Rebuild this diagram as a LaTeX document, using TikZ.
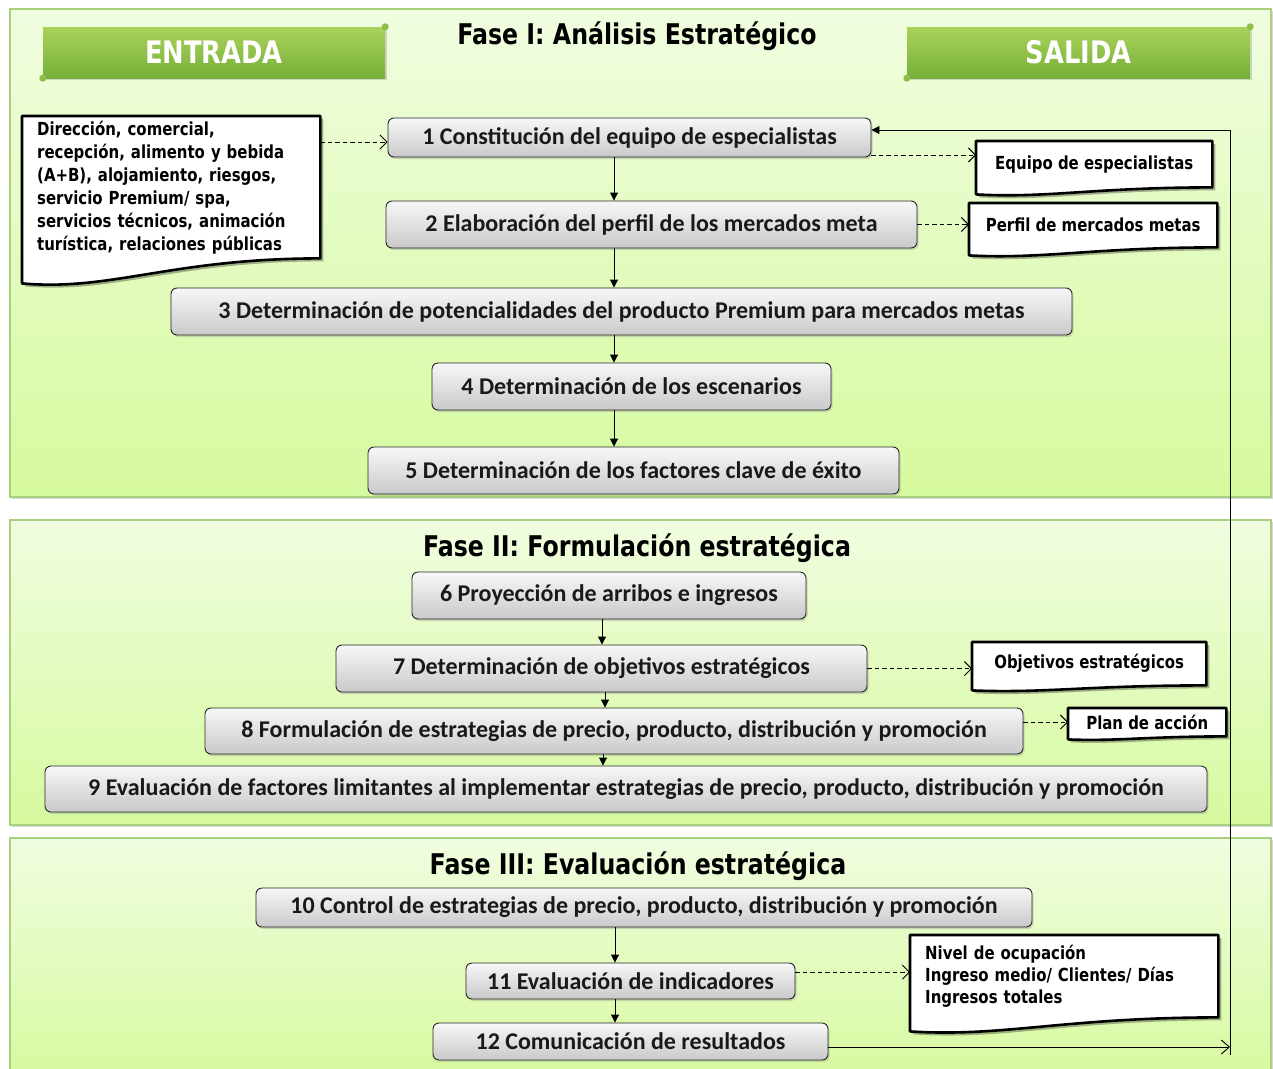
\documentclass[tikz,border=0pt]{standalone}
\usepackage{fontspec}
\newfontfamily\boxfont{Carlito}
\newfontfamily\tfont{DejaVu Sans}[FakeStretch=0.83]
\usetikzlibrary{arrows.meta,shadows,calc}
\pgfdeclarelayer{bg}
\pgfdeclarelayer{mid}
\pgfsetlayers{bg,mid,main}
\definecolor{pbord}{HTML}{A9D07E}
\definecolor{ptop}{HTML}{F0FDE0}
\definecolor{pbot}{HTML}{D6FA9E}
\definecolor{gtop}{HTML}{A9D35C}
\definecolor{gbot}{HTML}{78AF38}
\definecolor{knob}{HTML}{8CBF48}
\newcommand\docshape[3]{%
  \draw[fill=black, opacity=0.3, draw=none, transform canvas={shift={(3pt,-3pt)}}] (#1.north west) -- (#1.north east) -- (#1.south east) .. controls ($(#1.south west)!0.5!(#1.south east)$) and ($(#1.south west)!0.3!(#1.south east)+(0,#2+#3)$) .. ($(#1.south west)+(0,#2)$) -- cycle;
  \draw[line width=2.6pt, fill=white, line join=round] (#1.north west) -- (#1.north east) -- (#1.south east) .. controls ($(#1.south west)!0.5!(#1.south east)$) and ($(#1.south west)!0.3!(#1.south east)+(0,#2+#3)$) .. ($(#1.south west)+(0,#2)$) -- cycle;}
\begin{document}
\begin{tikzpicture}[x=1pt,y=-1pt,
  panel/.style={draw=pbord, line width=1.3pt, top color=ptop, bottom color=pbot,
     drop shadow={opacity=0.3, shadow xshift=1.5pt, shadow yshift=-2pt}},
  stepbox/.style={draw=black!85, line width=0.9pt, rounded corners=6pt, top color=gray!6, bottom color=gray!42,
     font=\boxfont\bfseries\fontsize{24}{26}\selectfont, text=black!90, inner sep=0pt,
     drop shadow={opacity=0.3, shadow xshift=1.5pt, shadow yshift=-2pt}},
  docnode/.style={inner sep=0pt, font=\tfont\bfseries\fontsize{18}{23}\selectfont, align=center, anchor=north west},
  banner/.style={top color=gtop, bottom color=gbot, draw=none, text=white, inner sep=0pt,
     font=\tfont\bfseries\fontsize{31}{34}\selectfont,
     drop shadow={opacity=0.3, shadow xshift=1.5pt, shadow yshift=-2pt}},
  phasetitle/.style={font=\tfont\bfseries\fontsize{28.5}{31}\selectfont, inner sep=0pt},
  darr/.style={line width=0.9pt, -{Triangle[length=8pt,width=8pt]}},
  dasharr/.style={line width=0.9pt, dash pattern=on 4.5pt off 3pt, -{Straight Barb[length=7pt,width=14pt]}},
  fbarr/.style={line width=0.9pt, -{Straight Barb[length=8pt,width=14pt]}},
]
\useasboundingbox (0,0) rectangle (1273,1068);
\begin{pgfonlayer}{bg}
\fill[white] (0,0) rectangle (1273,1068);
\draw[panel] (10,9) rectangle (1271,497);
\draw[panel] (10,520) rectangle (1271,825);
\draw[panel] (10,838) rectangle (1271,1085);
\end{pgfonlayer}

% banners
\node[banner, minimum width=342pt, minimum height=51pt] (ent) at (214,52.5) {ENTRADA};
\node[banner, minimum width=343pt, minimum height=51pt] (sal) at (1078.5,52.5) {SALIDA};
\fill[knob] (ent.north east) circle (3.5pt);
\fill[knob] (ent.south west) circle (3.5pt);
\fill[knob] (sal.north east) circle (3.5pt);
\fill[knob] (sal.south west) circle (3.5pt);

% titles
\node[phasetitle] (t1) at (637,36) {Fase I: Análisis Estratégico};
\node[phasetitle] (t2) at (637,548) {Fase II: Formulación estratégica};
\node[phasetitle] (t3) at (638,866) {Fase III: Evaluación estratégica};

% step boxes
\node[stepbox, minimum width=483pt, minimum height=39pt] (b1) at (629.5,137.5) {1 Constitución del equipo de especialistas};
\node[stepbox, minimum width=531pt, minimum height=47pt] (b2) at (651.5,224.5) {2 Elaboración del perfil de los mercados meta};
\node[stepbox, minimum width=901pt, minimum height=47pt] (b3) at (621.5,311.5) {3 Determinación de potencialidades del producto Premium para mercados metas};
\node[stepbox, minimum width=399pt, minimum height=47pt] (b4) at (631.5,386.5) {4 Determinación de los escenarios};
\node[stepbox, minimum width=531pt, minimum height=47pt] (b5) at (633.5,470.5) {5 Determinación de los factores clave de éxito};
\node[stepbox, minimum width=394pt, minimum height=47pt] (b6) at (609,595.5) {6 Proyección de arribos e ingresos};
\node[stepbox, minimum width=531pt, minimum height=47pt] (b7) at (601.5,668.5) {7 Determinación de objetivos estratégicos};
\node[stepbox, minimum width=818pt, minimum height=46pt] (b8) at (614,731) {8 Formulación de estrategias de precio, producto, distribución y promoción};
\node[stepbox, minimum width=1162pt, minimum height=46pt] (b9) at (626,789) {9 Evaluación de factores limitantes al implementar estrategias de precio, producto, distribución y promoción};
\node[stepbox, minimum width=776pt, minimum height=39pt] (b10) at (644,907.5) {10 Control de estrategias de precio, producto, distribución y promoción};
\node[stepbox, minimum width=329pt, minimum height=36pt] (b11) at (630.5,981) {11 Evaluación de indicadores};
\node[stepbox, minimum width=395pt, minimum height=37pt] (b12) at (630.5,1041.5) {12 Comunicación de resultados};

% document nodes
\node[docnode, align=left, minimum width=298pt, minimum height=142pt, text width=268pt, inner xsep=15pt] (in) at (22,116) {Dirección, comercial,\\recepción, alimento y bebida\\(A+B), alojamiento, riesgos,\\servicio Premium/ spa,\\servicios técnicos, animación\\turística, relaciones públicas};
\node[docnode, minimum width=236pt, minimum height=46pt] (eq) at (976,141) {Equipo de especialistas};
\node[docnode, minimum width=248pt, minimum height=44pt] (pf) at (969,203) {Perfil de mercados metas};
\node[docnode, minimum width=234pt, minimum height=43pt] (ob) at (972,642) {Objetivos estratégicos};
\node[docnode, minimum width=158pt, minimum height=28pt] (pl) at (1068,708) {Plan de acción};
\node[docnode, align=left, minimum width=308pt, minimum height=82pt, text width=278pt, inner xsep=15pt, font=\tfont\bfseries\fontsize{18}{22}\selectfont] (nv) at (910,935) {Nivel de ocupación\\Ingreso medio/ Clientes/ Días\\Ingresos totales};
\begin{pgfonlayer}{mid}
\docshape{in}{25}{8}
\docshape{eq}{7}{4}
\docshape{pf}{8}{4}
\docshape{ob}{5}{3}
\docshape{pl}{3}{2}
\docshape{nv}{14}{6}
\end{pgfonlayer}

% vertical flow arrows
\coordinate (ax1) at (614,0);
\coordinate (ax2) at (602,0);
\coordinate (ax3) at (605,0);
\coordinate (ax4) at (603,0);
\coordinate (ax5) at (615,0);
\draw[darr] (b1.south -| ax1) -- (b2.north -| ax1);
\draw[darr] (b2.south -| ax1) -- (b3.north -| ax1);
\draw[darr] (b3.south -| ax1) -- (b4.north -| ax1);
\draw[darr] (b4.south -| ax1) -- (b5.north -| ax1);
\draw[darr] (b6.south -| ax2) -- (b7.north -| ax2);
\draw[darr] (b7.south -| ax3) -- (b8.north -| ax3);
\draw[darr] (b8.south -| ax4) -- (b9.north -| ax4);
\draw[darr] (b10.south -| ax5) -- (b11.north -| ax5);
\draw[darr] (b11.south -| ax5) -- (b12.north -| ax5);

% dashed arrows to/from documents
\coordinate (y1) at (0,142);
\coordinate (y2) at (0,155);
\coordinate (y8) at (0,722);
\coordinate (y11) at (0,972);
\draw[dasharr] (in.east |- y1) -- (b1.west |- y1);
\draw[dasharr] (b1.east |- y2) -- (eq.west |- y2);
\draw[dasharr] (b2.east) -- (b2.east -| pf.west);
\draw[dasharr] (b7.east) -- (b7.east -| ob.west);
\draw[dasharr] (b8.east |- y8) -- (pl.west |- y8);
\draw[dasharr] (b11.east |- y11) -- (nv.west |- y11);

% feedback loop
\coordinate (fbT) at (1230,130);
\coordinate (fbB) at (1230,1047);
\coordinate (fbE) at (1230,1055);
\draw[fbarr] (fbB -| b12.east) -- (fbB);
\draw[darr] (fbE) -- (fbT) -- (fbT -| b1.east);
\end{tikzpicture}
\end{document}
